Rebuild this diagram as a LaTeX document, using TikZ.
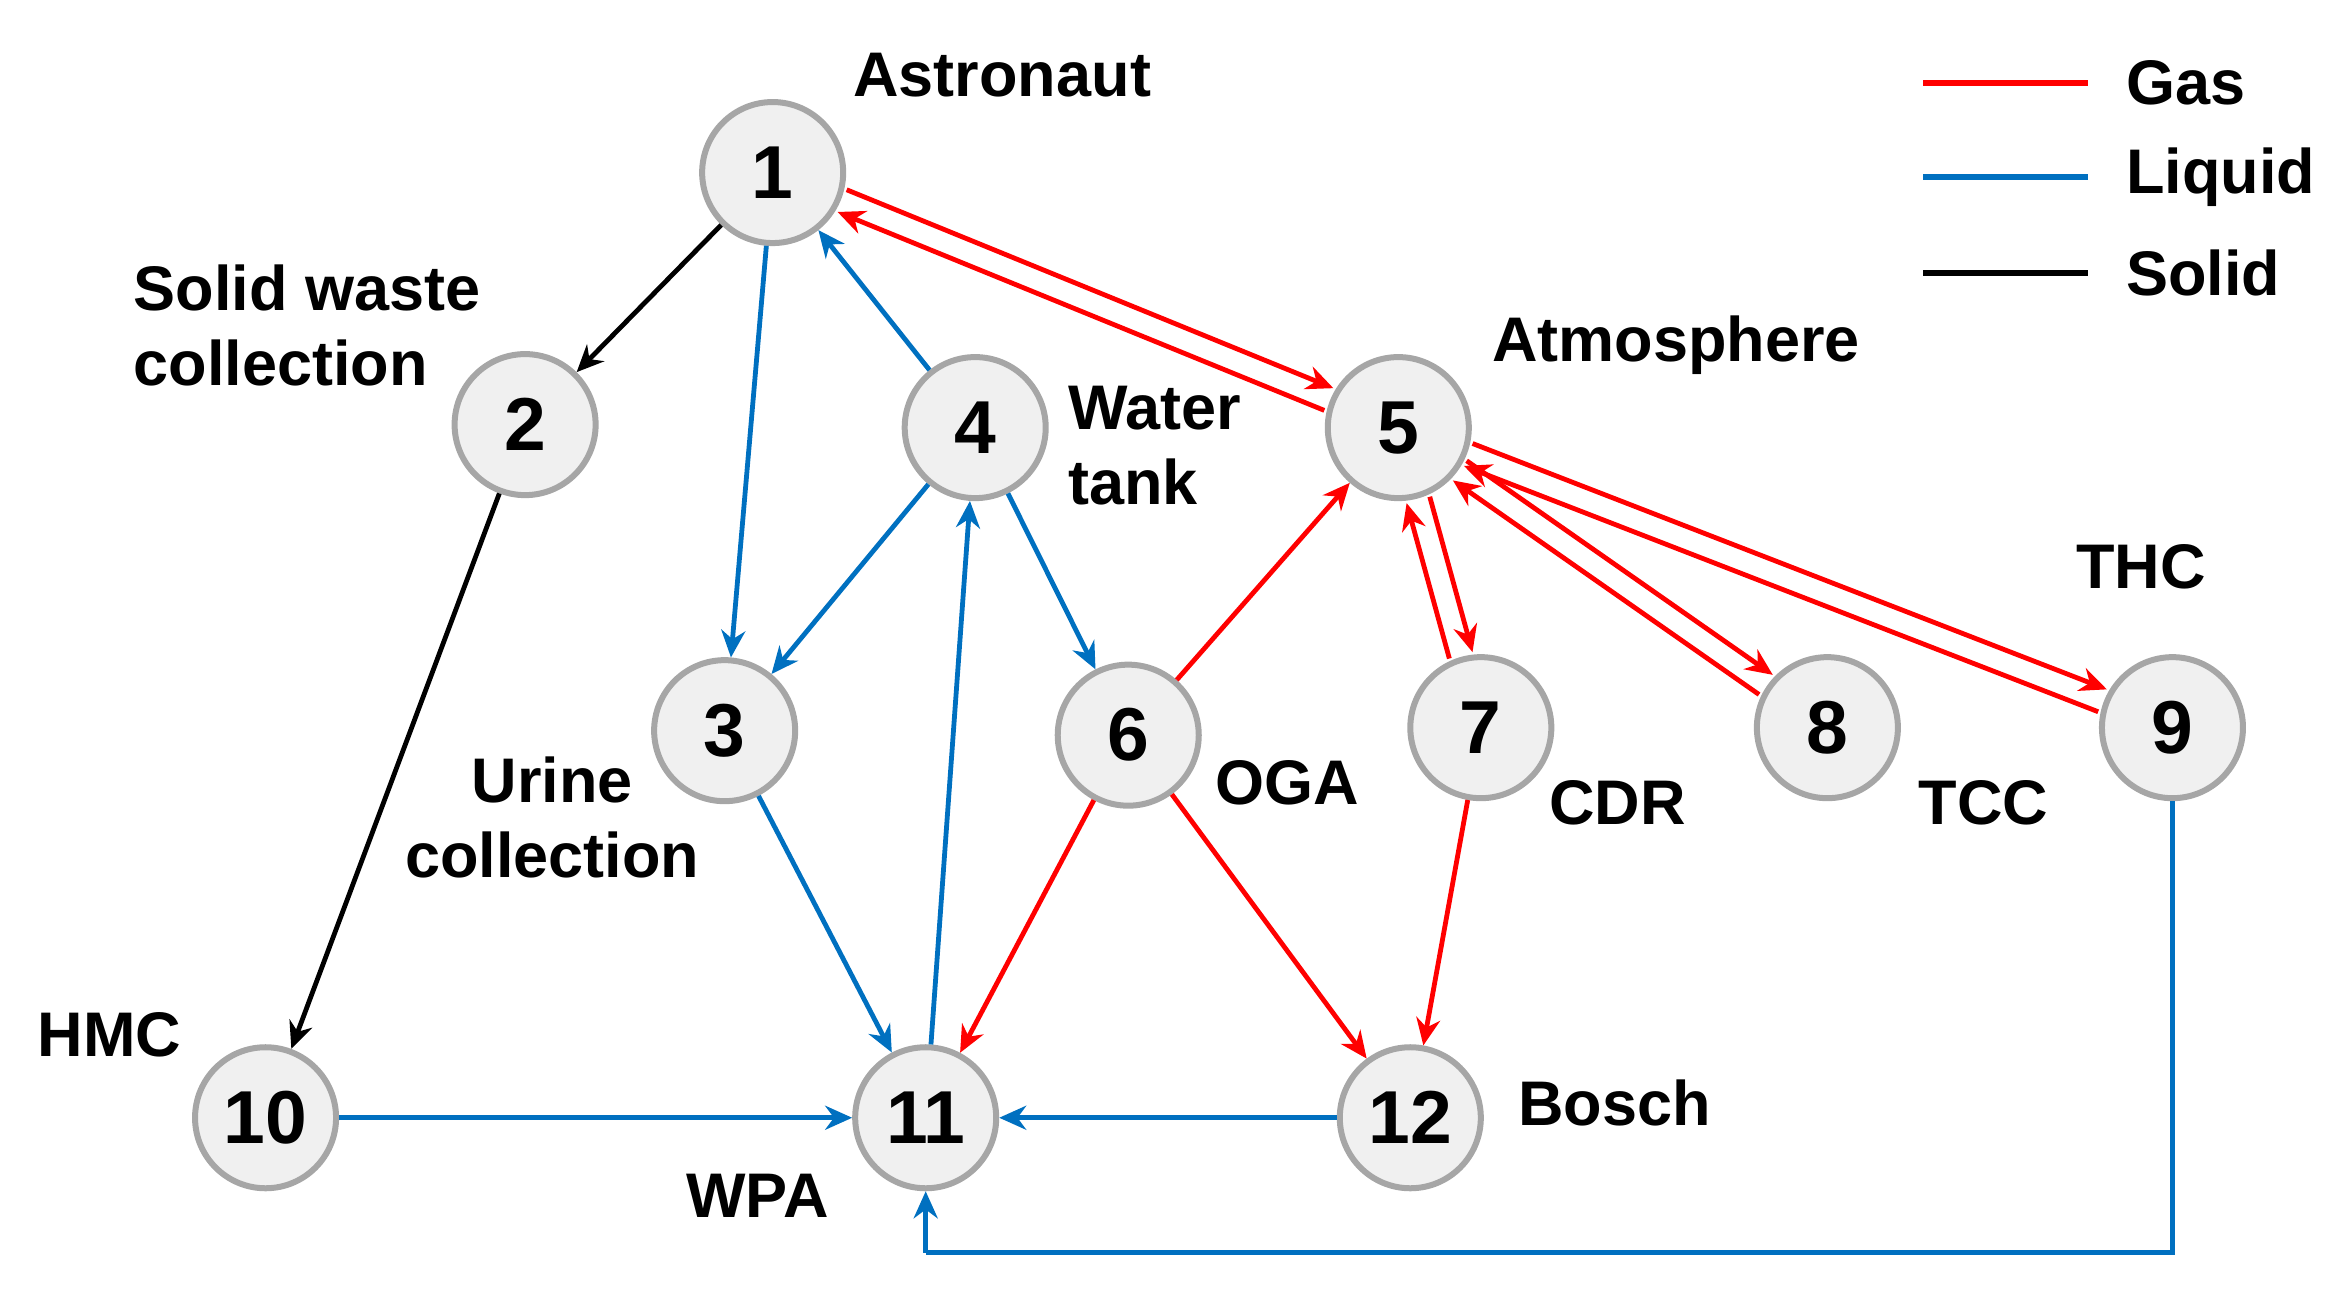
\documentclass[tikz,border=0pt]{standalone}
\usepackage{fontspec}
\setmainfont{Liberation Sans}
\usetikzlibrary{calc,arrows.meta}
\definecolor{liq}{HTML}{0070C0}
\definecolor{gasc}{HTML}{FF0000}
\begin{document}
\begin{tikzpicture}[x=0.5pt,y=-0.5pt,
  st/.style={circle,draw=gray!70,line width=2pt,fill=gray!12,minimum size=47pt,inner sep=0pt,font=\fontsize{25}{28}\selectfont\bfseries},
  lab/.style={font=\fontsize{21}{25}\selectfont\bfseries,align=left},
  ar/.style={line width=1.6pt,-{Stealth[length=9pt,width=8pt]}},
  gas/.style={ar,draw=gasc},
  liquid/.style={ar,draw=liq},
  solid/.style={ar,draw=black}]
\useasboundingbox (0,0) rectangle (1555,864);
\node[st] (n1) at (515,115) {1};
\node[st] (n2) at (350,283) {2};
\node[st] (n3) at (483,487) {3};
\node[st] (n4) at (650,285) {4};
\node[st] (n5) at (932,285) {5};
\node[st] (n6) at (752,490) {6};
\node[st] (n7) at (987,485) {7};
\node[st] (n8) at (1218,485) {8};
\node[st] (n9) at (1448,485) {9};
\node[st] (n10) at (177,745) {10};
\node[st] (n11) at (617,745) {11};
\node[st] (n12) at (940,745) {12};
% labels
\node[lab] (l1) at (668,50) {Astronaut};
\node[lab,anchor=west] (l2) at (82,217) {Solid waste\\collection};
\node[lab,anchor=west] (l4) at (705,297) {Water\\tank};
\node[lab] (l5) at (1117,230) {Atmosphere};
\node[lab] (l9) at (1427,378) {THC};
\node[lab,align=center] (l3) at (368,545) {Urine\\collection};
\node[lab] (l6) at (858,522) {OGA};
\node[lab] (l7) at (1078,535) {CDR};
\node[lab] (l8) at (1322,535) {TCC};
\node[lab] (l10) at (73,690) {HMC};
\node[lab] (l11) at (505,797) {WPA};
\node[lab] (l12) at (1076,735) {Bosch};
% legend
\coordinate (g1) at (1282,55); \coordinate (g2) at (1392,55);
\coordinate (q1) at (1282,118); \coordinate (q2) at (1392,118);
\coordinate (s1) at (1282,182); \coordinate (s2) at (1392,182);
\draw[gasc,line width=2pt] (g1) -- (g2);
\draw[liq,line width=2pt] (q1) -- (q2);
\draw[black,line width=2pt] (s1) -- (s2);
\node[lab,anchor=west] (lg) at (1410,55) {Gas};
\node[lab,anchor=west] (lq) at (1410,118) {Liquid};
\node[lab,anchor=west] (ls) at (1410,182) {Solid};
% solid
\draw[solid] (n1) -- (n2);
\draw[solid] (n2) -- (n10);
% liquid
\draw[liquid] (n1) -- (n3);
\draw[liquid] (n4) -- (n1);
\draw[liquid] (n4) -- (n3);
\draw[liquid] (n4) -- (n6);
\draw[liquid] (n11) -- (n4);
\draw[liquid] (n3) -- (n11);
\draw[liquid] (n10) -- (n11);
\draw[liquid] (n12) -- (n11);
\coordinate (c9) at (1448,835);
\coordinate (c11) at (617,835);
\draw[liquid,-] (n9) -- (c9) -- (c11);
\draw[liquid] (c11) -- (n11);
% gas
\newcommand{\twoway}[2]{%
  \path ($(#1)!25pt!(#2)$) coordinate (ts) ($(#2)!25pt!(#1)$) coordinate (tt);
  \draw[gas] ($(ts)!4pt!90:(tt)$) -- ($(tt)!4pt!-90:(ts)$);
  \draw[gas] ($(tt)!4pt!90:(ts)$) -- ($(ts)!4pt!-90:(tt)$);}
\twoway{n1}{n5}
\twoway{n5}{n7}
\twoway{n5}{n8}
\twoway{n5}{n9}
\draw[gas] (n6) -- (n5);
\draw[gas] (n6) -- (n11);
\draw[gas] (n6) -- (n12);
\draw[gas] (n7) -- (n12);
\end{tikzpicture}
\end{document}
